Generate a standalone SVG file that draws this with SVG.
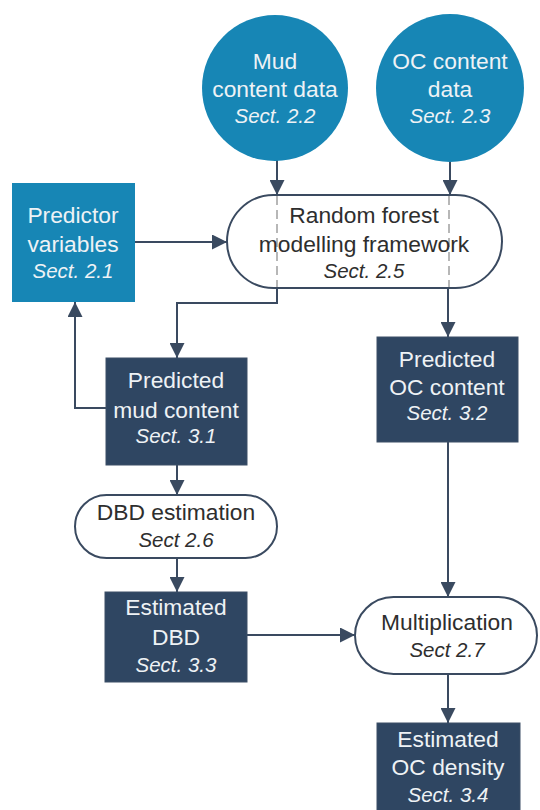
<svg xmlns="http://www.w3.org/2000/svg" width="540" height="810" viewBox="0 0 540 810">
  <style>
    .src { fill: #1786b5; }
    .res { fill: #2f4662; stroke: #3c4f66; stroke-width: 1; }
    .proc { fill: #ffffff; stroke: #3a4a60; stroke-width: 2; }
    .t { font-family: "Liberation Sans", Arial, sans-serif; font-size: 22.8px; text-anchor: middle; }
    .s { font-family: "Liberation Sans", Arial, sans-serif; font-size: 20.5px; font-style: italic; text-anchor: middle; }
    .light { fill: #eef2f5; }
    .dark { fill: #2e2e2e; }
    .ln { fill: none; stroke: #3a4a60; stroke-width: 2; }
    .dash { fill: none; stroke: #a0a0a0; stroke-width: 1.5; stroke-dasharray: 9 5; }
  </style>
  <defs>
    <marker id="arrow" viewBox="0 0 10 10" refX="10" refY="5" markerWidth="7.5" markerHeight="7.5" markerUnits="strokeWidth" orient="auto">
      <path d="M0,0 L10,5 L0,10 z" fill="#3a4a60"/>
    </marker>
  </defs>
  <rect width="540" height="810" fill="#ffffff"/>

  <!-- connectors -->
  <g id="connectors">
    <line class="ln" x1="277" y1="160" x2="277" y2="195" marker-end="url(#arrow)"/>
    <line class="ln" x1="450" y1="160" x2="450" y2="195" marker-end="url(#arrow)"/>
    <line class="ln" x1="135" y1="242" x2="227" y2="242" marker-end="url(#arrow)"/>
    <polyline class="ln" points="277,288 277,303 177,303 177,358" marker-end="url(#arrow)"/>
    <line class="ln" x1="448" y1="288" x2="448" y2="337" marker-end="url(#arrow)"/>
    <polyline class="ln" points="106,408 75,408 75,302" marker-end="url(#arrow)"/>
    <line class="ln" x1="177" y1="465" x2="177" y2="495" marker-end="url(#arrow)"/>
    <line class="ln" x1="177" y1="558" x2="177" y2="592" marker-end="url(#arrow)"/>
    <line class="ln" x1="247" y1="635" x2="355" y2="635" marker-end="url(#arrow)"/>
    <line class="ln" x1="448" y1="442" x2="448" y2="597" marker-end="url(#arrow)"/>
    <line class="ln" x1="448" y1="674" x2="448" y2="723" marker-end="url(#arrow)"/>
  </g>

  <!-- input data -->
  <g id="mud-data">
    <circle class="src" cx="275" cy="88" r="73"/>
    <text class="t light" x="275" y="69">Mud</text>
    <text class="t light" x="275" y="97">content data</text>
    <text class="s light" x="275" y="123">Sect. 2.2</text>
  </g>
  <g id="oc-data">
    <circle class="src" cx="450" cy="88" r="74"/>
    <text class="t light" x="450" y="69">OC content</text>
    <text class="t light" x="450" y="97">data</text>
    <text class="s light" x="450" y="123">Sect. 2.3</text>
  </g>
  <g id="predictors">
    <rect class="src" x="12" y="183" width="123" height="119"/>
    <text class="t light" x="73" y="223">Predictor</text>
    <text class="t light" x="73" y="252">variables</text>
    <text class="s light" x="73" y="278">Sect. 2.1</text>
  </g>

  <!-- processing steps -->
  <g id="random-forest">
    <rect class="proc" x="227" y="195" width="275" height="93" rx="46.5"/>
    <line class="dash" x1="277" y1="196" x2="277" y2="287"/>
    <line class="dash" x1="449" y1="196" x2="449" y2="287"/>
    <text class="t dark" x="364" y="223">Random forest</text>
    <text class="t dark" x="364" y="252">modelling framework</text>
    <text class="s dark" x="364" y="278">Sect. 2.5</text>
  </g>
  <g id="dbd-estimation">
    <rect class="proc" x="75" y="495" width="202" height="63" rx="31.5"/>
    <text class="t dark" x="176" y="520">DBD estimation</text>
    <text class="s dark" x="176" y="547">Sect 2.6</text>
  </g>
  <g id="multiplication">
    <rect class="proc" x="355" y="597" width="182" height="77" rx="38.5"/>
    <text class="t dark" x="447" y="630">Multiplication</text>
    <text class="s dark" x="447" y="657">Sect 2.7</text>
  </g>

  <!-- results -->
  <g id="pred-mud">
    <rect class="res" x="106" y="358" width="141" height="107"/>
    <text class="t light" x="176" y="388">Predicted</text>
    <text class="t light" x="176" y="418">mud content</text>
    <text class="s light" x="176" y="443">Sect. 3.1</text>
  </g>
  <g id="pred-oc">
    <rect class="res" x="377" y="337" width="141" height="105"/>
    <text class="t light" x="447" y="367">Predicted</text>
    <text class="t light" x="447" y="395">OC content</text>
    <text class="s light" x="447" y="420">Sect. 3.2</text>
  </g>
  <g id="est-dbd">
    <rect class="res" x="105" y="592" width="142" height="90"/>
    <text class="t light" x="176" y="615">Estimated</text>
    <text class="t light" x="176" y="645">DBD</text>
    <text class="s light" x="176" y="672">Sect. 3.3</text>
  </g>
  <g id="est-oc-density">
    <rect class="res" x="377" y="723" width="143" height="92"/>
    <text class="t light" x="448" y="747">Estimated</text>
    <text class="t light" x="448" y="775">OC density</text>
    <text class="s light" x="448" y="802">Sect. 3.4</text>
  </g>
</svg>
